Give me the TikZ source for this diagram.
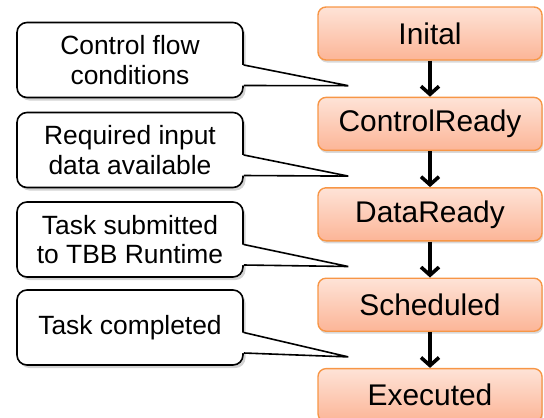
\documentclass[tikz,border=0pt]{standalone}
\usepackage{fontspec}
\setmainfont{Liberation Sans}
\usetikzlibrary{positioning,calc,shadows,arrows.meta}

\definecolor{stateline}{HTML}{F79646}
\definecolor{statetop}{HTML}{FEE3D7}
\definecolor{statebot}{HTML}{FCB597}

\begin{document}
\begin{tikzpicture}[x=1bp, y=-1bp,
  state/.style={draw=stateline, line width=1.4bp, rounded corners=8bp,
    top color=statetop, bottom color=statebot,
    minimum width=224bp, minimum height=53bp, inner sep=0pt,
    font=\fontsize{30}{34}\selectfont,
    drop shadow={shadow xshift=1bp, shadow yshift=-2.5bp, opacity=.3}},
  note/.style={draw, line width=1.6bp, rounded corners=10bp, fill=white,
    minimum width=226bp, minimum height=75bp, inner sep=0pt, align=center,
    font=\fontsize{26.5}{30}\selectfont,
    drop shadow={shadow xshift=2.5bp, shadow yshift=-3bp, opacity=.35}},
  arr/.style={line width=3.6bp, -{Straight Barb[length=8bp, width=18bp]}}]

\useasboundingbox (0,0) rectangle (544,417);

% states
\node[state] (s1) at (430,33.5) {Inital};
\node[state, below=36bp of s1] (s2) {ControlReady};
\node[state, below=36bp of s2] (s3) {DataReady};
\node[state, below=36bp of s3] (s4) {Scheduled};
\node[state, below=36bp of s4] (s5) {Executed};

\foreach \i/\j in {1/2,2/3,3/4,4/5}{
\draw[arr] (s\i) -- (s\j);}

% notes
\node[note] (n1) at (130,60) {Control flow\\conditions};
\node[note] (n2) at (130,150) {Required input\\data available};
\node[note] (n3) at (130,239.5) {Task submitted\\to TBB Runtime};
\node[note] (n4) at (130,327.5) {Task completed};

\foreach \i/\j in {1/2,2/3,3/4,4/5}{
\coordinate (t\i) at ($(s\j.north west)+(31,-11)$);
\fill[white] ($(n\i.east)+(-2,5)$) -- (t\i) -- ($(n\i.east)+(-2,25.5)$) -- cycle;
\draw[line width=1.6bp, line join=miter] ($(n\i.east)+(0,5)$) -- (t\i) -- ($(n\i.east)+(0,25.5)$);}

\end{tikzpicture}
\end{document}
